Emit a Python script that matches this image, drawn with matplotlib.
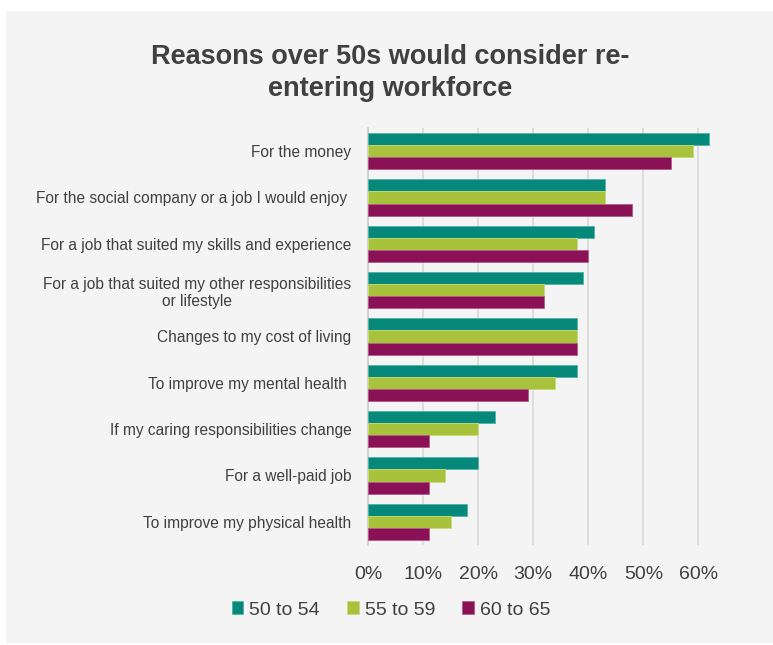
import numpy as np
import matplotlib.pyplot as plt
from matplotlib.patches import Rectangle
from matplotlib.ticker import PercentFormatter

# categories, top to bottom
reasons = [
    "For the money",
    "For the social company or a job I would enjoy ",
    "For a job that suited my skills and experience",
    "For a job that suited my other responsibilities\nor lifestyle",
    "Changes to my cost of living",
    "To improve my mental health ",
    "If my caring responsibilities change",
    "For a well-paid job",
    "To improve my physical health",
]
age_groups = ["50 to 54", "55 to 59", "60 to 65"]
vals_50_54 = [0.62, 0.43, 0.41, 0.39, 0.38, 0.38, 0.23, 0.20, 0.18]
vals_55_59 = [0.59, 0.43, 0.38, 0.32, 0.38, 0.34, 0.20, 0.14, 0.15]
vals_60_65 = [0.55, 0.48, 0.40, 0.32, 0.38, 0.29, 0.11, 0.11, 0.11]

colors = ["#06897a", "#a9c23b", "#8a1156"]
edges = ["#4fb3a6", "#c9db7a", "#b05a88"]
text_col = "#404040"
bg = "#f4f4f4"

plt.rcParams['font.family'] = ['Liberation Sans', 'DejaVu Sans']

fig = plt.figure(figsize=(7.73, 6.45), dpi=100)
fig.patch.set_facecolor("white")
fig.patches.append(Rectangle((6 / 773, 0.003), 1, 1 - 11 / 645 - 0.003,
                             transform=fig.transFigure, facecolor=bg,
                             edgecolor="none", zorder=-10))

ax = fig.add_axes([368 / 773, 1 - 545 / 645, (715 - 368) / 773, (545 - 128) / 645])
ax.set_facecolor(bg)

y = np.arange(len(reasons))
h = 0.26
series = [vals_50_54, vals_55_59, vals_60_65]
for i, (vals, lab) in enumerate(zip(series, age_groups)):
    ax.barh(y + (i - 1) * h, vals, height=h, color=colors[i], edgecolor=edges[i],
            linewidth=0.6, label=lab, zorder=3)

ax.set_ylim(len(reasons) - 0.5, -0.5)
ax.set_xlim(0, 0.63)
ax.set_xticks(np.arange(0, 0.61, 0.1))
ax.xaxis.set_major_formatter(PercentFormatter(1.0, decimals=0))
ax.set_yticks(y)
ax.set_yticklabels(reasons, multialignment="center", linespacing=1.2)
ax.tick_params(axis="y", length=0, pad=12, labelsize=11.2, labelcolor=text_col)
ax.tick_params(axis="x", length=0, pad=15, labelsize=14, labelcolor=text_col)

ax.grid(axis="x", color="#dadada", linewidth=1.3, zorder=0)
for s in ["top", "right", "bottom"]:
    ax.spines[s].set_visible(False)
ax.spines["left"].set_color("#d0d0d0")
ax.spines["left"].set_linewidth(1.3)

fig.text(390 / 773, 1 - 73 / 645, "Reasons over 50s would consider re-\nentering workforce",
         ha="center", va="center", fontsize=19.5, fontweight="bold", color=text_col,
         linespacing=1.25)

handles, labels = ax.get_legend_handles_labels()
fig.legend(handles, labels, loc="center", bbox_to_anchor=(391 / 773, 1 - 610 / 645),
           ncol=3, frameon=False, fontsize=14, handlelength=0.6, handleheight=0.6,
           handletextpad=0.3, columnspacing=1.4, labelcolor=text_col)

fig.savefig("out.png", dpi=100, facecolor=fig.get_facecolor())
